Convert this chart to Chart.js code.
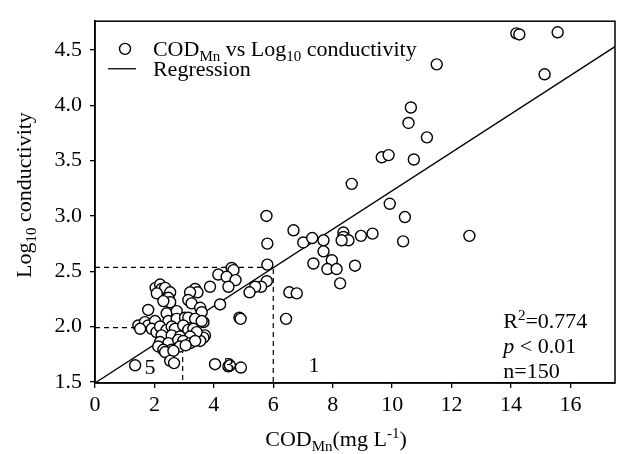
<!DOCTYPE html>
<html>
<head>
<meta charset="utf-8">
<script src="https://cdn.jsdelivr.net/npm/chart.js@4.4.0/dist/chart.umd.min.js"></script>
<style>
  body { margin: 0; background: #fff; }
  canvas { display: block; }
</style>
</head>
<body>
<canvas id="chart" width="619" height="454"></canvas>
<script>
// observed points: COD_Mn (mg/L) vs log10 conductivity
const codMn = [
  14.18, 14.28, 15.57, 15.13, 11.5, 10.63, 10.55, 11.17, 9.65, 9.88, 10.73,
  8.64, 9.92, 10.43, 10.37, 12.6, 9.34, 8.95, 8.36, 8.36, 8.53, 8.30, 7.69, 7.69,
  7.97, 7.82, 8.13, 8.75, 8.25, 7.01, 7.31, 6.68, 7.35, 5.77, 5.80, 5.80, 5.78,
  5.59, 5.39, 5.20, 6.54, 6.79, 6.43, 4.86, 4.90, 4.04, 4.49, 4.54, 4.91, 4.60,
  4.66, 4.15, 4.43, 4.73, 4.49, 3.87, 4.21, 3.37, 3.45, 3.20, 3.14, 3.25, 3.54,
  3.59, 3.65, 3.70, 3.65, 3.54, 2.04, 2.19, 2.24, 2.36, 2.53, 2.08, 2.47, 2.53,
  2.30, 2.41, 2.75, 1.79, 1.46, 1.68, 1.79, 2.02, 2.47, 2.75, 3.03, 3.14, 3.37,
  3.59, 1.52, 1.91, 2.07, 2.19, 2.41, 2.58, 2.69, 2.97, 3.14, 3.31, 3.42, 2.24,
  2.58, 2.86, 3.20, 2.19, 2.47, 2.80, 2.97, 3.20, 3.37, 2.13, 2.30, 2.58, 2.86,
  2.36, 2.64, 2.53, 2.66, 1.35, 3.05
];
const logCond = [
  4.65, 4.64, 4.66, 4.28, 4.37, 3.98, 3.84, 3.71, 3.53, 3.55, 3.51,
  3.29, 3.11, 2.99, 2.77, 2.82, 2.84, 2.82, 2.85, 2.81, 2.78, 2.78, 2.78, 2.68,
  2.60, 2.52, 2.52, 2.55, 2.39, 2.76, 2.80, 2.87, 2.57, 3.00, 2.75, 2.56, 2.41,
  2.36, 2.36, 2.31, 2.31, 2.30, 2.07, 2.08, 2.07, 1.66, 1.64, 1.65, 1.63, 2.53,
  2.51, 2.47, 2.45, 2.42, 2.36, 2.36, 2.20, 2.34, 2.31, 2.31, 2.24, 2.21, 2.17,
  2.13, 2.04, 1.92, 1.90, 1.87, 2.35, 2.38, 2.34, 2.35, 2.31, 2.30, 2.26, 2.22,
  2.23, 2.12, 2.14, 2.15, 2.01, 2.04, 2.01, 2.05, 2.05, 2.07, 2.08, 2.08, 2.07,
  2.05, 1.98, 1.98, 1.95, 2.00, 1.97, 2.00, 1.98, 2.01, 1.97, 1.98, 1.95, 1.92,
  1.92, 1.91, 1.91, 1.86, 1.85, 1.88, 1.87, 1.85, 1.87, 1.82, 1.79, 1.79, 1.82,
  1.77, 1.78, 1.69, 1.67, 1.65, 1.83
];

// regression line end points
const regX = [0, 17.5];
const regY = [1.49, 4.53];

// dashed guide lines
const guideAX = [0, 6, 6];
const guideAY = [2.535, 2.535, 1.49];
const guideBX = [0, 2.95, 2.95];
const guideBY = [1.99, 1.99, 1.49];

// axis ticks
const xTicks = [0, 2, 4, 6, 8, 10, 12, 14, 16];
const yTicks = [1.5, 2.0, 2.5, 3.0, 3.5, 4.0, 4.5];

// region numbers and stats text
const regionLabels = ['5', '3', '1'];
const regionX = [1.85, 4.51, 7.37];
const regionY = [1.625, 1.64, 1.645];
const statX = 13.74;
const statY = [2.06, 1.83, 1.61];

const FONT = '"Liberation Serif", "DejaVu Serif", serif';

function pts(xs, ys) {
  return xs.map((x, i) => ({ x: x, y: ys[i] }));
}

// draws a run of text pieces with sub/superscripts
function richText(ctx, parts, x, y, align) {
  const big = 22, small = 15;
  let w = 0;
  parts.forEach(p => {
    ctx.font = (p.italic ? 'italic ' : '') + (p.sub || p.sup ? small : big) + 'px ' + FONT;
    p.w = ctx.measureText(p.t).width;
    w += p.w;
  });
  let cx = align === 'center' ? x - w / 2 : x;
  ctx.textAlign = 'left';
  ctx.textBaseline = 'alphabetic';
  parts.forEach(p => {
    ctx.font = (p.italic ? 'italic ' : '') + (p.sub || p.sup ? small : big) + 'px ' + FONT;
    let dy = p.sub ? 5 : (p.sup ? -8 : 0);
    ctx.fillText(p.t, cx, y + dy);
    cx += p.w;
  });
  return w;
}

const extras = {
  id: 'extras',
  afterDraw(chart) {
    const ctx = chart.ctx;
    const a = chart.chartArea;
    const xs = chart.scales.x, ys = chart.scales.y;
    ctx.save();
    ctx.strokeStyle = '#000';
    ctx.lineWidth = 1.5;
    ctx.strokeRect(a.left, a.top, a.right - a.left, a.bottom - a.top);
    ctx.fillStyle = '#000';

    // legend
    const lx = xs.getPixelForValue(1.01);
    const ly1 = ys.getPixelForValue(4.51);
    const ly2 = ys.getPixelForValue(4.33);
    ctx.beginPath();
    ctx.arc(lx, ly1, 5.5, 0, Math.PI * 2);
    ctx.fillStyle = '#fff';
    ctx.fill();
    ctx.lineWidth = 1.4;
    ctx.stroke();
    ctx.beginPath();
    ctx.moveTo(xs.getPixelForValue(0.44), ly2);
    ctx.lineTo(xs.getPixelForValue(1.38), ly2);
    ctx.lineWidth = 1.3;
    ctx.stroke();
    ctx.fillStyle = '#000';
    const tx = xs.getPixelForValue(1.95);
    richText(ctx, [{ t: 'COD' }, { t: 'Mn', sub: true }, { t: ' vs Log' }, { t: '10', sub: true }, { t: ' conductivity' }], tx, ly1 + 7, 'left');
    richText(ctx, [{ t: 'Regression' }], tx, ly2 + 7, 'left');

    // region numbers
    ctx.font = '22px ' + FONT;
    ctx.textAlign = 'center';
    ctx.textBaseline = 'middle';
    regionLabels.forEach((s, i) => {
      ctx.fillText(s, xs.getPixelForValue(regionX[i]), ys.getPixelForValue(regionY[i]));
    });

    // stats
    const sx = xs.getPixelForValue(statX);
    richText(ctx, [{ t: 'R' }, { t: '2', sup: true }, { t: '=0.774' }], sx, ys.getPixelForValue(statY[0]) + 8, 'left');
    richText(ctx, [{ t: 'p', italic: true }, { t: ' < 0.01' }], sx, ys.getPixelForValue(statY[1]) + 8, 'left');
    richText(ctx, [{ t: 'n=150' }], sx, ys.getPixelForValue(statY[2]) + 8, 'left');

    // axis titles
    richText(ctx, [{ t: 'COD' }, { t: 'Mn', sub: true }, { t: '(mg L' }, { t: '-1', sup: true }, { t: ')' }], 336, 446, 'center');
    ctx.translate(31, (a.top + a.bottom) / 2 - 7);
    ctx.rotate(-Math.PI / 2);
    richText(ctx, [{ t: 'Log' }, { t: '10', sub: true }, { t: ' conductivity' }], 0, 0, 'center');
    ctx.restore();
  }
};

const tickFont = { family: FONT, size: 22 };

new Chart(document.getElementById('chart'), {
  type: 'scatter',
  data: {
    datasets: [
      {
        data: pts(codMn, logCond),
        pointRadius: 5.5,
        pointBorderWidth: 1.4,
        pointBackgroundColor: '#fff',
        pointBorderColor: '#000'
      },
      {
        type: 'line',
        data: pts(regX, regY),
        borderColor: '#000',
        borderWidth: 1.3,
        pointRadius: 0,
        fill: false
      },
      {
        type: 'line',
        data: pts(guideAX, guideAY),
        borderColor: '#000',
        borderWidth: 1.2,
        borderDash: [5, 4],
        pointRadius: 0,
        fill: false
      },
      {
        type: 'line',
        data: pts(guideBX, guideBY),
        borderColor: '#000',
        borderWidth: 1.2,
        borderDash: [5, 4],
        pointRadius: 0,
        fill: false
      }
    ]
  },
  options: {
    responsive: false,
    animation: false,
    devicePixelRatio: 1,
    layout: { autoPadding: false, padding: { left: 0, top: 7, right: 4, bottom: 0 } },
    plugins: { legend: { display: false }, tooltip: { enabled: false } },
    scales: {
      x: {
        type: 'linear',
        min: 0,
        max: 17.5,
        afterBuildTicks: s => { s.ticks = xTicks.map(v => ({ value: v })); },
        afterFit: s => { s.height = 71; },
        ticks: { font: tickFont, color: '#000', padding: 4, callback: v => v },
        grid: { drawOnChartArea: false, drawTicks: true, tickLength: 5, color: '#000', lineWidth: 1.3 },
        border: { color: '#000', width: 1.5 }
      },
      y: {
        type: 'linear',
        min: 1.49,
        max: 4.76,
        afterBuildTicks: s => { s.ticks = yTicks.map(v => ({ value: v })); },
        afterFit: s => { s.width = 95; },
        ticks: { font: tickFont, color: '#000', padding: 8, callback: v => v.toFixed(1) },
        grid: { drawOnChartArea: false, drawTicks: true, tickLength: 5, color: '#000', lineWidth: 1.3 },
        border: { color: '#000', width: 1.5 }
      }
    }
  },
  plugins: [extras]
});
</script>
</body>
</html>
